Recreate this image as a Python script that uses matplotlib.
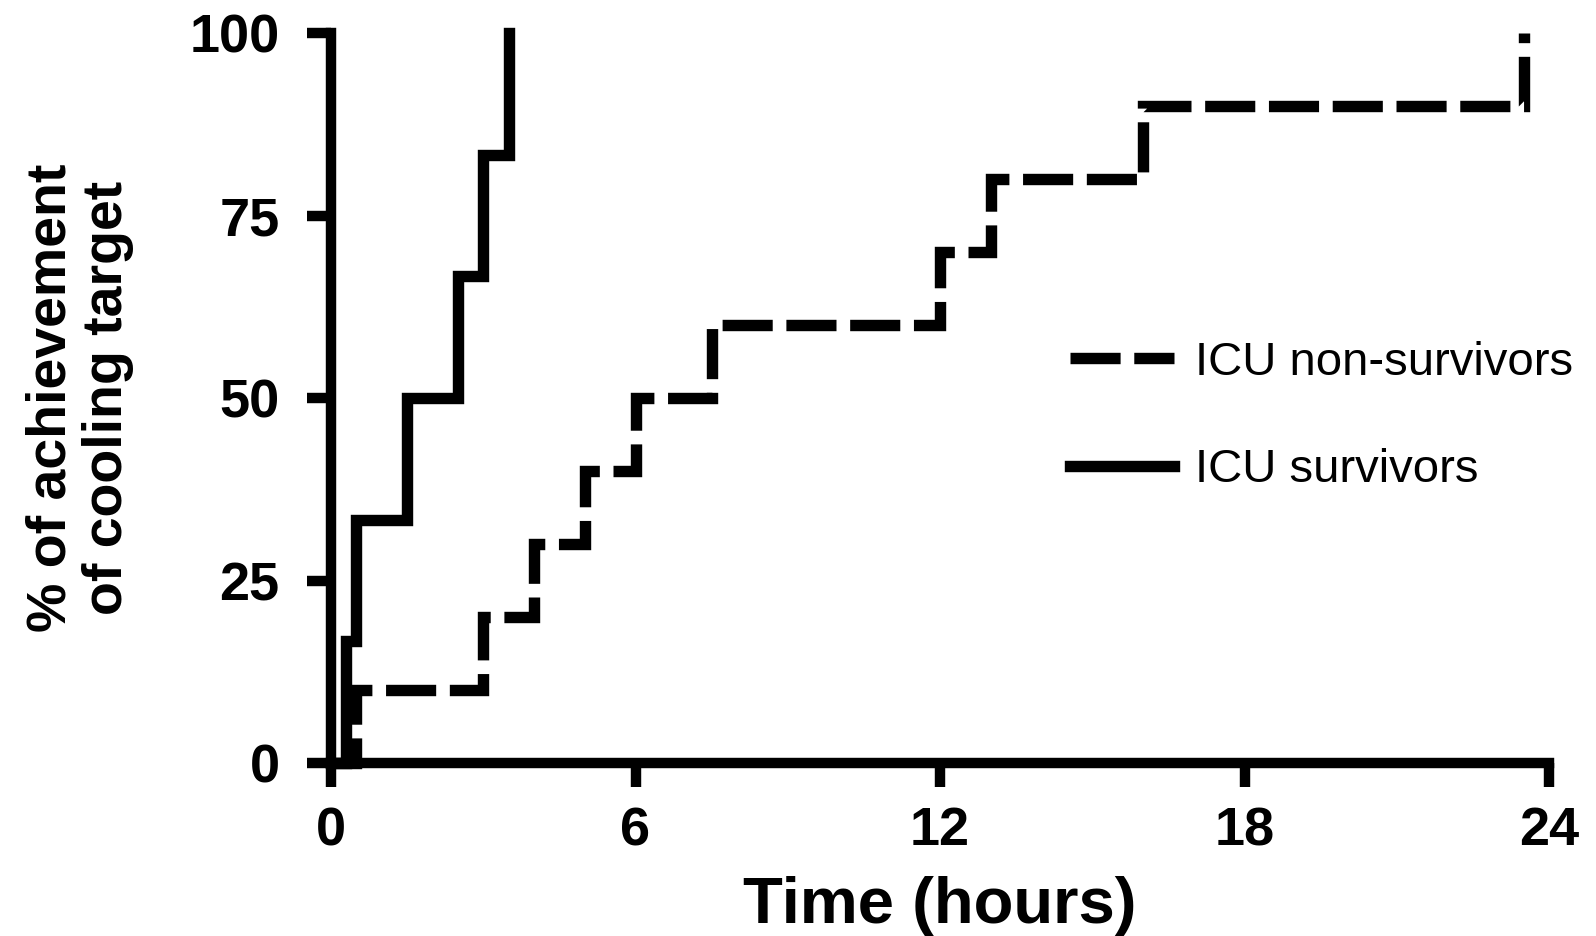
import matplotlib
matplotlib.use('Agg')
import matplotlib.pyplot as plt

# Kaplan-Meier like steps
surv_time = [0, 0.3, 0.5, 1.5, 2.5, 3.0, 3.5]
surv_pct = [0, 16.7, 33.3, 50, 66.7, 83.3, 100]

nonsurv_time = [0, 0.5, 3, 4, 5, 6, 7.5, 12, 13, 16, 23.5]
nonsurv_pct = [0, 10, 20, 30, 40, 50, 60, 70, 80, 90, 100]

xticks = [0, 6, 12, 18, 24]
yticks = [0, 25, 50, 75, 100]

plt.rcParams['font.family'] = ['Liberation Sans', 'DejaVu Sans']

fig = plt.figure(figsize=(15.96, 9.36), dpi=100)
ax = fig.add_axes([0.2074, 0.1848, 0.7632, 0.7799])

lw = 8.2
l1, = ax.step(nonsurv_time, nonsurv_pct, where='post', color='black', lw=lw,
              linestyle=(0, (4.4, 1.2)), clip_on=False,
              label='ICU non-survivors')
l1.set_dash_joinstyle('miter')
l2, = ax.step(surv_time, surv_pct, where='post', color='black', lw=lw,
              clip_on=False, label='ICU survivors')
l2.set_solid_joinstyle('miter')

ax.set_xlim(0, 24)
ax.set_ylim(0, 100)
ax.set_xticks(xticks)
ax.set_yticks(yticks)

for side in ['top', 'right']:
    ax.spines[side].set_visible(False)
for side in ['left', 'bottom']:
    ax.spines[side].set_linewidth(7.5)
    ax.spines[side].set_capstyle('projecting')

ax.tick_params(axis='both', direction='out', length=17, width=7.5,
               labelsize=39)
ax.tick_params(axis='y', pad=20)
ax.tick_params(axis='x', pad=14)
for lab in ax.get_xticklabels() + ax.get_yticklabels():
    lab.set_fontweight('bold')

ax.set_xlabel('Time (hours)', fontsize=47, fontweight='bold', labelpad=14)
ax.set_ylabel('% of achievement\nof cooling target', fontsize=40,
              fontweight='bold', labelpad=40, linespacing=1.1)

leg = fig.legend(handles=[l1, l2], loc='center left',
                 bbox_to_anchor=(0.6705, 0.555), frameon=False,
                 fontsize=34, handlelength=2.2, handletextpad=0.45,
                 labelspacing=1.35, borderpad=0, borderaxespad=0)

plt.savefig('out.png', dpi=100)
